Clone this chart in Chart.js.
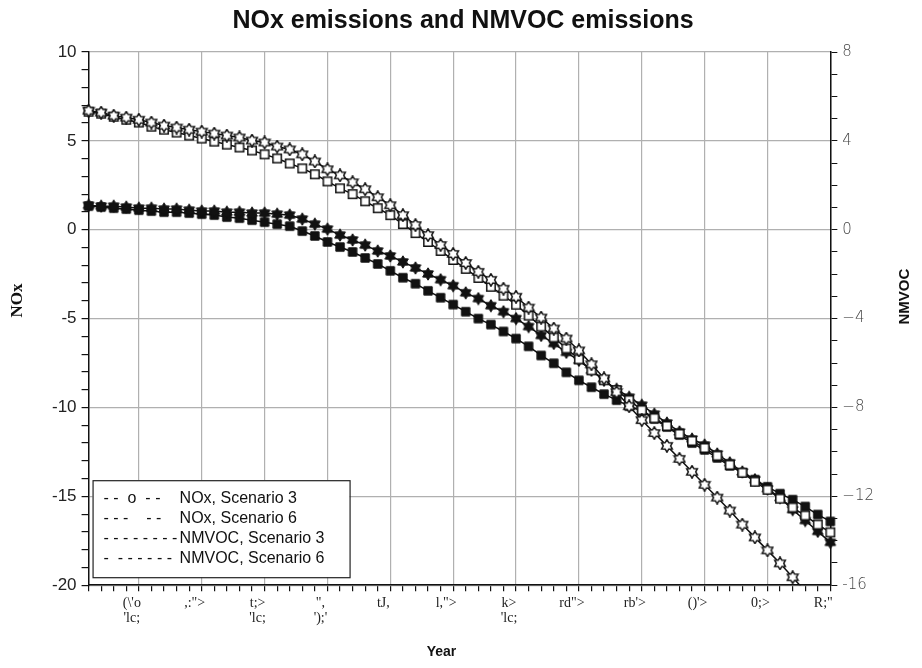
<!DOCTYPE html>
<html>
<head>
<meta charset="utf-8">
<title>NOx emissions and NMVOC emissions</title>
<script src="https://cdn.jsdelivr.net/npm/chart.js@4.4.1/dist/chart.umd.min.js"></script>
<style>
  html, body { margin: 0; padding: 0; background: #fff; }
  #wrap { width: 922px; height: 668px; }
</style>
</head>
<body>
<div id="wrap"><canvas id="chart-emissions"></canvas></div>
<script>
// x categories (one point per year)
const years = [
  1996, 1997, 1998, 1999, 2000, 2001, 2002, 2003, 2004, 2005,
  2006, 2007, 2008, 2009, 2010, 2011, 2012, 2013, 2014, 2015,
  2016, 2017, 2018, 2019, 2020, 2021, 2022, 2023, 2024, 2025,
  2026, 2027, 2028, 2029, 2030, 2031, 2032, 2033, 2034, 2035,
  2036, 2037, 2038, 2039, 2040, 2041, 2042, 2043, 2044, 2045,
  2046, 2047, 2048, 2049, 2050, 2051, 2052, 2053, 2054, 2055
];

// labels under the major x ticks, as printed in the source (garbled)
const xMajorYears = [2000, 2005, 2010, 2015, 2020, 2025, 2030, 2035, 2040, 2045, 2050, 2055];
const xTickLabels = [
  ["(\\'o", "'lc;"], [',:">'], ['t;>', "'lc;"], ['",', "');'"],
  ['tJ,'], ['l,">'], ['k>', "'lc;"], ['rd">'],
  ["rb'>"], ["()'>"], ['0;>'], ['R;"']
];

// left axis (NOx) and right axis (NMVOC) labelled ticks
const leftTicks = [10, 5, 0, -5, -10, -15, -20];
const rightTicks = [8, 4, 0, -4, -8, -12, -16];
const rightTickLabels = ['8', '4', '0', '\u22124', '\u22128', '\u221212', '-16'];

// NOx, left axis
const noxScen3 = [
  6.70, 6.59, 6.42, 6.31, 6.19, 6.03, 5.86, 5.75, 5.63, 5.52,
  5.41, 5.30, 5.19, 5.02, 4.91, 4.68, 4.52, 4.24, 3.84, 3.40,
  3.06, 2.67, 2.28, 1.83, 1.38, 0.82, 0.26, -0.30, -0.86, -1.36,
  -1.87, -2.37, -2.82, -3.32, -3.77, -4.38, -4.94, -5.56, -6.12, -6.79,
  -7.57, -8.36, -9.14, -9.93, -10.71, -11.44, -12.16, -12.89, -13.62, -14.35,
  -15.07, -15.80, -16.59, -17.31, -18.04, -18.77, -19.55, -20.34, null, null
];
const noxScen6 = [
  6.64, 6.53, 6.36, 6.19, 6.03, 5.80, 5.63, 5.47, 5.30, 5.13,
  4.96, 4.79, 4.63, 4.46, 4.24, 4.01, 3.73, 3.45, 3.12, 2.72,
  2.33, 2.00, 1.60, 1.21, 0.82, 0.32, -0.19, -0.69, -1.19, -1.70,
  -2.20, -2.71, -3.21, -3.71, -4.22, -4.83, -5.45, -6.06, -6.68, -7.29,
  -7.91, -8.47, -9.03, -9.59, -10.15, -10.60, -11.04, -11.49, -11.88, -12.28,
  -12.72, -13.23, -13.67, -14.18, -14.63, -15.13, -15.63, -16.08, -16.59, -17.03
];

// NMVOC, right axis
const nmvocScen3 = [
  1.10, 1.06, 1.06, 1.02, 0.97, 0.97, 0.93, 0.93, 0.88, 0.84,
  0.84, 0.79, 0.79, 0.75, 0.75, 0.70, 0.66, 0.48, 0.25, 0.03,
  -0.24, -0.46, -0.69, -0.96, -1.18, -1.45, -1.72, -1.99, -2.25, -2.52,
  -2.84, -3.10, -3.42, -3.69, -4.00, -4.36, -4.76, -5.12, -5.52, -5.88,
  -6.33, -6.78, -7.18, -7.54, -7.90, -8.30, -8.70, -9.10, -9.42, -9.69,
  -10.09, -10.49, -10.90, -11.25, -11.66, -12.06, -12.60, -13.09, -13.58, -14.07
];
const nmvocScen6 = [
  1.06, 1.02, 0.97, 0.93, 0.88, 0.84, 0.79, 0.79, 0.75, 0.70,
  0.66, 0.57, 0.52, 0.43, 0.34, 0.25, 0.16, -0.06, -0.28, -0.55,
  -0.78, -1.00, -1.27, -1.54, -1.85, -2.16, -2.43, -2.75, -3.06, -3.37,
  -3.69, -4.00, -4.27, -4.58, -4.90, -5.25, -5.66, -6.01, -6.42, -6.78,
  -7.09, -7.40, -7.67, -7.94, -8.16, -8.52, -8.88, -9.24, -9.60, -9.91,
  -10.27, -10.63, -10.94, -11.25, -11.57, -11.88, -12.15, -12.46, -12.82, -13.13
];

const seriesNames = ['NOx, Scenario 3', 'NOx, Scenario 6', 'NMVOC, Scenario 3', 'NMVOC, Scenario 6'];
const legendSymbols = ['- -  o  - -', '- - -    - -', '- - - - - - - -', '-  - - - - - -'];

const INK = '#111';
const GRID = '#b0b0b0';

// small canvas markers: six-point star and square, open or filled
function makeMarker(shape, filled) {
  const s = 14, c = document.createElement('canvas');
  c.width = s; c.height = s;
  const g = c.getContext('2d');
  const m = s / 2;
  g.beginPath();
  if (shape === 'star') {
    for (let i = 0; i < 12; i++) {
      const r = i % 2 === 0 ? 6.2 : 3.7;
      const a = -Math.PI / 2 + i * Math.PI / 6;
      const px = m + r * Math.cos(a), py = m + r * Math.sin(a);
      i === 0 ? g.moveTo(px, py) : g.lineTo(px, py);
    }
    g.closePath();
  } else {
    g.rect(m - 4.2, m - 4.2, 8.4, 8.4);
  }
  g.fillStyle = filled ? INK : '#fff';
  g.fill();
  g.lineWidth = filled ? 1 : 1.5;
  g.strokeStyle = INK;
  g.stroke();
  return c;
}

const lineDataset = (label, data, marker, axis) => ({
  label: label,
  data: data,
  yAxisID: axis,
  borderColor: INK,
  borderWidth: 1.5,
  pointStyle: marker,
  pointRadius: 5,
  pointHoverRadius: 5,
  tension: 0,
  spanGaps: false
});

// legend box drawn inside the plot area, bottom-left
const boxLegend = {
  id: 'boxLegend',
  afterDatasetsDraw(chart) {
    const { ctx, chartArea } = chart;
    const x = chartArea.left + 4, w = 257, h = 97;
    const y = chartArea.bottom - 8 - h;
    ctx.save();
    ctx.fillStyle = '#fff';
    ctx.fillRect(x, y, w, h);
    ctx.strokeStyle = '#222';
    ctx.lineWidth = 1.2;
    ctx.strokeRect(x + 0.5, y + 0.5, w, h);
    ctx.font = '16px "Liberation Sans", Arial, sans-serif';
    ctx.fillStyle = INK;
    ctx.textBaseline = 'middle';
    seriesNames.forEach((name, i) => {
      const ty = y + 18 + i * 20;
      ctx.fillText(legendSymbols[i], x + 11, ty);
      ctx.fillText(name, x + 87, ty);
    });
    ctx.restore();
  }
};

// axis titles, placed a little off-centre like the source
const axisTitles = {
  id: 'axisTitles',
  afterDraw(chart) {
    const { ctx, chartArea } = chart;
    const midX = (chartArea.left + chartArea.right) / 2;
    const midY = (chartArea.top + chartArea.bottom) / 2;
    ctx.save();
    ctx.fillStyle = INK;
    ctx.textAlign = 'center';
    ctx.textBaseline = 'middle';
    ctx.font = 'bold 14px "Liberation Sans", Arial, sans-serif';
    ctx.fillText('Year', midX - 18, 652);

    ctx.save();
    ctx.translate(18, midY - 18);
    ctx.rotate(-Math.PI / 2);
    ctx.font = 'bold 17px "Liberation Serif", serif';
    ctx.fillText('NOx', 0, 0);
    ctx.restore();

    ctx.save();
    ctx.translate(905, midY - 22);
    ctx.rotate(-Math.PI / 2);
    ctx.font = 'bold 15px "Liberation Sans", Arial, sans-serif';
    ctx.fillText('NMVOC', 0, 0);
    ctx.restore();
    ctx.restore();
  }
};

new Chart(document.getElementById('chart-emissions'), {
  type: 'line',
  data: {
    labels: years,
    datasets: [
      lineDataset(seriesNames[0], noxScen3, makeMarker('star', false), 'y'),
      lineDataset(seriesNames[1], noxScen6, makeMarker('rect', false), 'y'),
      lineDataset(seriesNames[2], nmvocScen3, makeMarker('star', true), 'y1'),
      lineDataset(seriesNames[3], nmvocScen6, makeMarker('rect', true), 'y1')
    ]
  },
  options: {
    responsive: true,
    maintainAspectRatio: false,
    animation: false,
    events: [],
    layout: { padding: { left: 47, right: 43, top: 0, bottom: 38 } },
    plugins: {
      legend: { display: false },
      tooltip: { enabled: false },
      title: {
        display: true,
        text: 'NOx emissions and NMVOC emissions',
        color: INK,
        font: { family: '"Liberation Sans", Arial, sans-serif', size: 25, weight: 'bold', lineHeight: 1.2 },
        padding: { top: 6, bottom: 16 }
      }
    },
    scales: {
      x: {
        type: 'category',
        offset: false,
        grid: {
          color: (c) => (years[c.index] % 5 === 0 ? GRID : 'rgba(0,0,0,0)'),
          lineWidth: 1.2,
          tickColor: INK,
          tickLength: 6,
          drawTicks: true
        },
        border: { color: INK, width: 1.5 },
        ticks: {
          autoSkip: false,
          maxRotation: 0,
          padding: 4,
          labelOffset: -7,
          color: '#222',
          font: { family: '"Liberation Serif", "Times New Roman", serif', size: 14, lineHeight: 1.1 },
          callback: (value, index) => {
            const k = xMajorYears.indexOf(years[index]);
            return k >= 0 ? xTickLabels[k] : '';
          }
        }
      },
      y: {
        position: 'left',
        min: -20,
        max: 10,
        grid: {
          color: (c) => (leftTicks.includes(c.tick.value) ? GRID : 'rgba(0,0,0,0)'),
          lineWidth: 1.2,
          tickColor: INK,
          tickLength: 7
        },
        border: { color: INK, width: 1.5 },
        ticks: {
          stepSize: 1,
          autoSkip: false,
          padding: 5,
          color: '#222',
          font: { family: '"Liberation Sans", Arial, sans-serif', size: 17 },
          callback: (v) => (leftTicks.includes(v) ? String(v) : '')
        }
      },
      y1: {
        position: 'right',
        min: -16,
        max: 8,
        grid: {
          drawOnChartArea: false,
          tickColor: INK,
          tickLength: 7
        },
        border: { color: INK, width: 1.5 },
        ticks: {
          stepSize: 1,
          autoSkip: false,
          padding: 5,
          color: '#444',
          font: { family: '"DejaVu Sans", sans-serif', size: 15, weight: 300 },
          callback: (v) => {
            const k = rightTicks.indexOf(v);
            return k >= 0 ? rightTickLabels[k] : '';
          }
        }
      }
    }
  },
  plugins: [boxLegend, axisTitles]
});
</script>
</body>
</html>
